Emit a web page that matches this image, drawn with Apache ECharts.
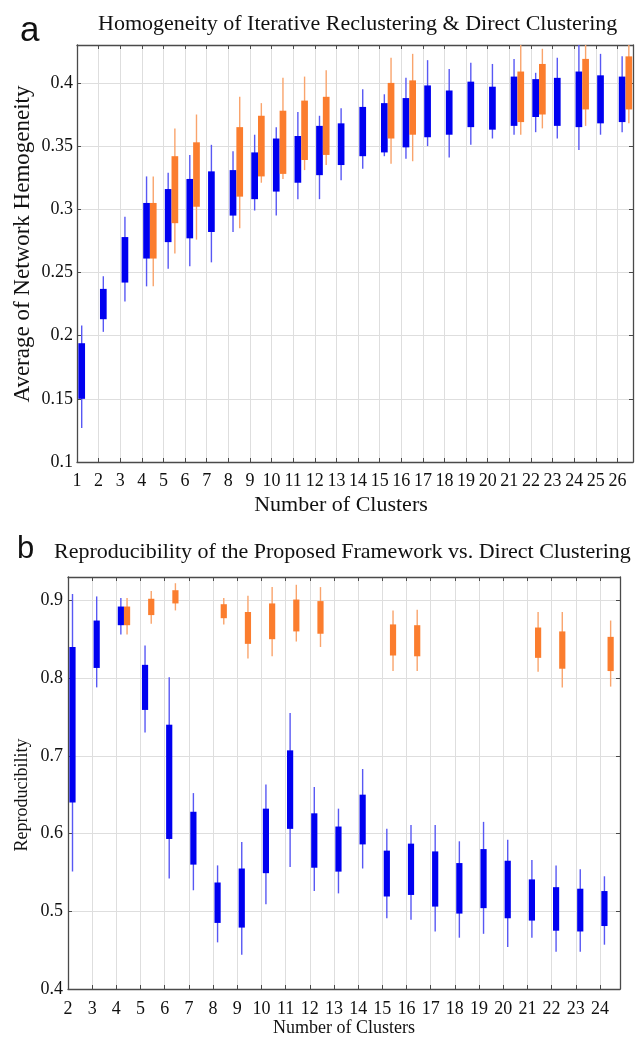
<!DOCTYPE html>
<html>
<head>
<meta charset="utf-8">
<script src="https://cdn.jsdelivr.net/npm/echarts@6/dist/echarts.min.js"></script>
<style>
  html, body { margin: 0; padding: 0; background: #fff; }
  #main { width: 636px; height: 1040px; }
</style>
</head>
<body>
<div id="main"></div>
<script>
// rows: [clusters, lowWhisker, q1, q3, highWhisker]
var homoDirect = [
  [1, 0.127, 0.150, 0.194, 0.208], [2, 0.203, 0.213, 0.237, 0.247],
  [3, 0.227, 0.242, 0.278, 0.294], [4, 0.239, 0.261, 0.305, 0.326],
  [5, 0.253, 0.274, 0.316, 0.329], [6, 0.255, 0.277, 0.324, 0.343],
  [7, 0.258, 0.282, 0.330, 0.351], [8, 0.282, 0.295, 0.331, 0.346],
  [9, 0.299, 0.308, 0.345, 0.359], [10, 0.295, 0.314, 0.356, 0.365],
  [11, 0.308, 0.321, 0.358, 0.377], [12, 0.308, 0.327, 0.366, 0.374],
  [13, 0.323, 0.335, 0.368, 0.380], [14, 0.332, 0.342, 0.381, 0.395],
  [15, 0.342, 0.345, 0.384, 0.391], [16, 0.340, 0.349, 0.388, 0.404],
  [17, 0.350, 0.357, 0.398, 0.418], [18, 0.341, 0.359, 0.394, 0.411],
  [19, 0.351, 0.365, 0.401, 0.416], [20, 0.356, 0.363, 0.397, 0.415],
  [21, 0.359, 0.366, 0.405, 0.419], [22, 0.361, 0.373, 0.403, 0.408],
  [23, 0.356, 0.366, 0.404, 0.420], [24, 0.347, 0.365, 0.409, 0.430],
  [25, 0.359, 0.368, 0.406, 0.423], [26, 0.361, 0.369, 0.405, 0.421]
];
var homoIterative = [
  [4, 0.239, 0.261, 0.305, 0.326], [5, 0.265, 0.289, 0.342, 0.364],
  [6, 0.276, 0.302, 0.353, 0.375], [8, 0.285, 0.310, 0.365, 0.389],
  [9, 0.321, 0.326, 0.374, 0.384], [10, 0.324, 0.328, 0.378, 0.404],
  [11, 0.331, 0.339, 0.386, 0.405], [12, 0.335, 0.343, 0.389, 0.410],
  [15, 0.336, 0.356, 0.400, 0.420], [16, 0.338, 0.359, 0.402, 0.423],
  [21, 0.359, 0.369, 0.409, 0.430], [22, 0.364, 0.375, 0.415, 0.427],
  [24, 0.366, 0.379, 0.419, 0.430], [26, 0.368, 0.379, 0.421, 0.430]
];
var reproDirect = [
  [2, 0.551, 0.640, 0.840, 0.908], [3, 0.788, 0.813, 0.874, 0.905],
  [4, 0.856, 0.868, 0.892, 0.903], [5, 0.730, 0.759, 0.817, 0.842],
  [6, 0.542, 0.593, 0.740, 0.801], [7, 0.527, 0.560, 0.628, 0.652],
  [8, 0.460, 0.485, 0.537, 0.559], [9, 0.444, 0.479, 0.555, 0.589],
  [10, 0.509, 0.549, 0.632, 0.663], [11, 0.557, 0.606, 0.707, 0.755],
  [12, 0.526, 0.556, 0.626, 0.660], [13, 0.523, 0.551, 0.609, 0.632],
  [14, 0.555, 0.586, 0.650, 0.683], [15, 0.491, 0.519, 0.578, 0.606],
  [16, 0.489, 0.521, 0.587, 0.611], [17, 0.474, 0.506, 0.577, 0.611],
  [18, 0.466, 0.497, 0.562, 0.590], [19, 0.471, 0.504, 0.580, 0.615],
  [20, 0.454, 0.491, 0.565, 0.592], [21, 0.466, 0.488, 0.541, 0.566],
  [22, 0.448, 0.475, 0.531, 0.559], [23, 0.448, 0.474, 0.529, 0.554],
  [24, 0.457, 0.481, 0.526, 0.545]
];
var reproFramework = [
  [4, 0.856, 0.868, 0.892, 0.903], [5, 0.870, 0.881, 0.902, 0.912],
  [6, 0.887, 0.896, 0.913, 0.922], [8, 0.869, 0.877, 0.895, 0.903],
  [9, 0.825, 0.844, 0.885, 0.906], [10, 0.828, 0.850, 0.896, 0.917],
  [11, 0.847, 0.860, 0.901, 0.920], [12, 0.840, 0.857, 0.899, 0.917],
  [15, 0.809, 0.829, 0.869, 0.887], [16, 0.809, 0.828, 0.868, 0.888],
  [21, 0.808, 0.826, 0.865, 0.885], [22, 0.788, 0.812, 0.860, 0.885],
  [24, 0.789, 0.809, 0.853, 0.874]
];
var topTitle = 'Homogeneity of Iterative Reclustering & Direct Clustering';
var bottomTitle = 'Reproducibility of the Proposed Framework vs. Direct Clustering';
var topYName = 'Average of Network Hemogeneity';
var bottomYName = 'Reproducibility';
var xName = 'Number of Clusters';

var BLUE = '#0000f0', BLUE_W = '#5858f4';
var ORANGE = '#fb7d2e', ORANGE_W = '#f9a46c';
var SERIF = '"Liberation Serif", "DejaVu Serif", serif';
var SANS = '"Liberation Sans", Arial, sans-serif';

function boxRenderer(offset, width, fill, whisker) {
  return function (params, api) {
    var x = api.value(0);
    var lo = api.coord([x, api.value(1)]);
    var q1 = api.coord([x, api.value(2)]);
    var q3 = api.coord([x, api.value(3)]);
    var hi = api.coord([x, api.value(4)]);
    var cx = lo[0] + offset;
    return {
      type: 'group',
      children: [
        { type: 'line', shape: { x1: cx, y1: hi[1], x2: cx, y2: lo[1] },
          style: { stroke: whisker, lineWidth: 1.4 } },
        { type: 'rect', shape: { x: cx - width / 2, y: q3[1], width: width, height: q1[1] - q3[1] },
          style: { fill: fill } }
      ]
    };
  };
}

function intLabel(v) { return Math.abs(v - Math.round(v)) < 1e-6 ? String(Math.round(v)) : ''; }
function stepLabel(step) {
  return function (v) {
    var k = v / step;
    return Math.abs(k - Math.round(k)) < 1e-6 ? String(+v.toFixed(2)) : '';
  };
}

var axisLine = { show: true, lineStyle: { color: '#4a4a4a', width: 1.3 } };
var tick = { show: true, inside: true, length: 4, lineStyle: { color: '#4a4a4a' } };
var split = { show: true, lineStyle: { color: '#dedede', width: 1 } };

function xAxes(gi, min, max, margin, nameSize, nameGap, namePad) {
  return [
    { type: 'value', gridIndex: gi, position: 'bottom', min: min, max: max, interval: 1,
      axisLine: axisLine, axisTick: tick, splitLine: split,
      axisLabel: { formatter: intLabel, margin: margin, color: '#111', fontFamily: SERIF, fontSize: 18 },
      name: xName, nameLocation: 'middle', nameGap: nameGap,
      nameTextStyle: { color: '#111', fontFamily: SERIF, fontSize: nameSize, padding: namePad } },
    { type: 'value', gridIndex: gi, position: 'top', min: min, max: max, interval: 1,
      axisLine: axisLine, axisTick: tick, splitLine: { show: false }, axisLabel: { show: false } }
  ];
}
function yAxes(gi, min, max, step, margin) {
  return [
    { type: 'value', gridIndex: gi, position: 'left', min: min, max: max, interval: step,
      axisLine: axisLine, axisTick: tick, splitLine: split,
      axisLabel: { formatter: stepLabel(step), margin: margin, color: '#111', fontFamily: SERIF, fontSize: 18 } },
    { type: 'value', gridIndex: gi, position: 'right', min: min, max: max, interval: step,
      axisLine: axisLine, axisTick: tick, splitLine: { show: false }, axisLabel: { show: false } }
  ];
}

var chart = echarts.init(document.getElementById('main'), null, { renderer: 'canvas' });
chart.setOption({
  animation: false,
  backgroundColor: '#fff',
  title: [
    { text: 'a', left: 15, top: 9, textStyle: { fontFamily: SANS, fontSize: 35, fontWeight: 'normal', color: '#111' } },
    { text: topTitle, left: 93, top: 8, textStyle: { fontFamily: SERIF, fontSize: 22, fontWeight: 'normal', color: '#111' } },
    { text: 'b', left: 12, top: 529, textStyle: { fontFamily: SANS, fontSize: 31, fontWeight: 'normal', color: '#111' } },
    { text: bottomTitle, left: 49, top: 536, textStyle: { fontFamily: SERIF, fontSize: 22, fontWeight: 'normal', color: '#111' } }
  ],
  graphic: [
    { type: 'text', x: 23, y: 244, rotation: Math.PI / 2,
      style: { text: topYName, font: '23px ' + SERIF, fill: '#111', align: 'center', verticalAlign: 'middle' } },
    { type: 'text', x: 22, y: 795, rotation: Math.PI / 2,
      style: { text: bottomYName, font: '18px ' + SERIF, fill: '#111', align: 'center', verticalAlign: 'middle' } }
  ],
  grid: [
    { left: 77, top: 45, width: 557, height: 417 },
    { left: 68, top: 577, width: 552, height: 412 }
  ],
  xAxis: xAxes(0, 1, 26.72, 10, 22, 32, [0, 28, 0, 0]).concat(xAxes(1, 2, 24.83, 11, 18, 29, 0)),
  yAxis: yAxes(0, 0.1, 0.43, 0.05, 4).concat(yAxes(1, 0.4, 0.93, 0.1, 5)),
  series: [
    { type: 'custom', name: 'Direct', xAxisIndex: 0, yAxisIndex: 0, clip: true,
      encode: { x: 0, y: [1, 2, 3, 4] }, data: homoDirect,
      renderItem: boxRenderer(4.7, 6.7, BLUE, BLUE_W) },
    { type: 'custom', name: 'Iterative', xAxisIndex: 0, yAxisIndex: 0, clip: true,
      encode: { x: 0, y: [1, 2, 3, 4] }, data: homoIterative,
      renderItem: boxRenderer(11.4, 6.7, ORANGE, ORANGE_W) },
    { type: 'custom', name: 'Direct', xAxisIndex: 2, yAxisIndex: 2, clip: true,
      encode: { x: 0, y: [1, 2, 3, 4] }, data: reproDirect,
      renderItem: boxRenderer(4.5, 6.2, BLUE, BLUE_W) },
    { type: 'custom', name: 'Framework', xAxisIndex: 2, yAxisIndex: 2, clip: true,
      encode: { x: 0, y: [1, 2, 3, 4] }, data: reproFramework,
      renderItem: boxRenderer(10.7, 6.2, ORANGE, ORANGE_W) }
  ]
});
</script>
</body>
</html>
